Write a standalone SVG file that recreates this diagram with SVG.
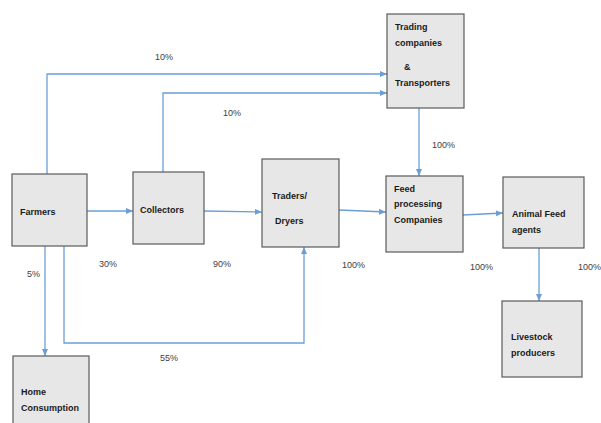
<svg xmlns="http://www.w3.org/2000/svg" width="601" height="423" viewBox="0 0 601 423">
<style>
.box{fill:#e7e7e7;stroke:#5a5a5a;stroke-width:1.2}
.t{font-family:"Liberation Sans",Arial,sans-serif;font-size:9px;font-weight:bold;fill:#1a1a1a}
.p{font-family:"Liberation Sans",Arial,sans-serif;font-size:9px;fill:#404040}
.c{fill:none;stroke:#6a9fd6;stroke-width:1.3}
</style>
<defs>
<marker id="a" markerWidth="8" markerHeight="8" refX="7" refY="4" orient="auto" markerUnits="userSpaceOnUse">
<path d="M0,1 L7,4 L0,7 Z" fill="#6a9fd6"/>
</marker>
</defs>
<rect width="601" height="423" fill="#fff"/>
<g id="connectors">
<path class="c" d="M47,174 V74 H387" marker-end="url(#a)"/>
<path class="c" d="M163,172 V93 H387" marker-end="url(#a)"/>
<path class="c" d="M87,211 H133" marker-end="url(#a)"/>
<path class="c" d="M204,211 L262,212" marker-end="url(#a)"/>
<path class="c" d="M339,210 L386,212" marker-end="url(#a)"/>
<path class="c" d="M419,108 V176" marker-end="url(#a)"/>
<path class="c" d="M463,215 L503,213" marker-end="url(#a)"/>
<path class="c" d="M539,248 V301" marker-end="url(#a)"/>
<path class="c" d="M45,246 V356" marker-end="url(#a)"/>
<path class="c" d="M64,246 V343 H304 V247" marker-end="url(#a)"/>
</g>
<g id="labels">
<text class="p" x="155" y="60">10%</text>
<text class="p" x="223" y="116">10%</text>
<text class="p" x="432" y="148">100%</text>
<text class="p" x="27" y="277">5%</text>
<text class="p" x="99" y="267">30%</text>
<text class="p" x="213" y="267">90%</text>
<text class="p" x="342" y="268">100%</text>
<text class="p" x="470" y="270">100%</text>
<text class="p" x="578" y="270">100%</text>
<text class="p" x="160" y="361">55%</text>
</g>
<g id="farmers"><rect class="box" x="12" y="174" width="75" height="72"/><text class="t" x="20" y="215">Farmers</text></g>
<g id="collectors"><rect class="box" x="133" y="172" width="71" height="72"/><text class="t" x="140" y="213">Collectors</text></g>
<g id="traders"><rect class="box" x="262" y="159" width="77" height="88"/><text class="t" x="272" y="199">Traders/</text><text class="t" x="275" y="224">Dryers</text></g>
<g id="trading"><rect class="box" x="387" y="14" width="77" height="94"/><text class="t" x="395" y="30">Trading</text><text class="t" x="395" y="46">companies</text><text class="t" x="404" y="70">&amp;</text><text class="t" x="395" y="86">Transporters</text></g>
<g id="feed"><rect class="box" x="386" y="176" width="77" height="76"/><text class="t" x="394" y="192">Feed</text><text class="t" x="394" y="207">processing</text><text class="t" x="394" y="223">Companies</text></g>
<g id="animal"><rect class="box" x="503" y="177" width="81" height="71"/><text class="t" x="512" y="217">Animal Feed</text><text class="t" x="512" y="233">agents</text></g>
<g id="livestock"><rect class="box" x="502" y="301" width="80" height="76"/><text class="t" x="511" y="340">Livestock</text><text class="t" x="511" y="356">producers</text></g>
<g id="home"><rect class="box" x="13" y="356" width="76" height="72"/><text class="t" x="21" y="395">Home</text><text class="t" x="21" y="411">Consumption</text></g>
</svg>
